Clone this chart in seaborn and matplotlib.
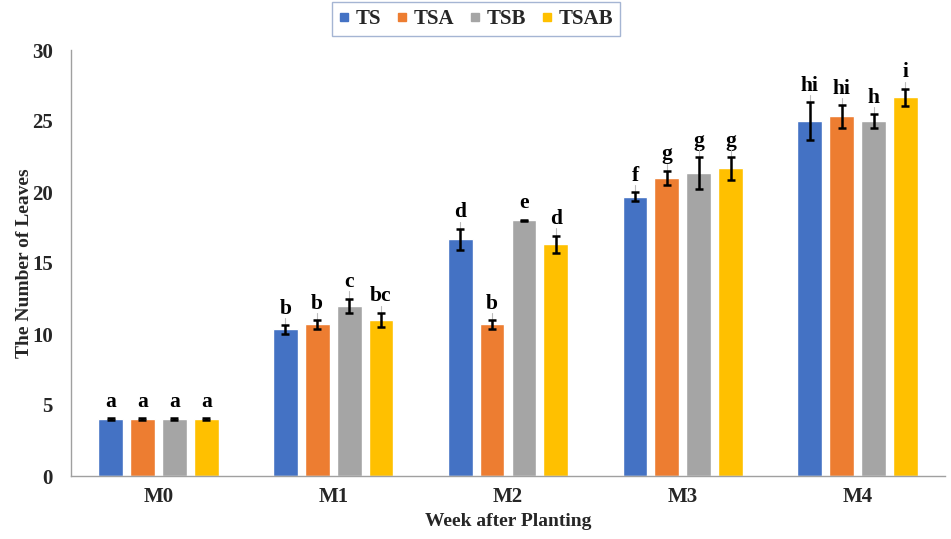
import matplotlib
matplotlib.use("Agg")
import matplotlib.pyplot as plt
import seaborn as sns
import pandas as pd
import numpy as np

weeks = ["M0", "M1", "M2", "M3", "M4"]
treatments = ["TS", "TSA", "TSB", "TSAB"]
ts = [4.0, 10.33, 16.67, 19.67, 25.0]
tsa = [4.0, 10.67, 10.67, 21.0, 25.33]
tsb = [4.0, 12.0, 18.0, 21.33, 25.0]
tsab = [4.0, 11.0, 16.33, 21.67, 26.67]
ts_err = [0.05, 0.3, 0.75, 0.3, 1.33]
tsa_err = [0.05, 0.3, 0.3, 0.5, 0.8]
tsb_err = [0.05, 0.5, 0.05, 1.1, 0.5]
tsab_err = [0.05, 0.5, 0.6, 0.8, 0.6]
ts_lab = ["a", "b", "d", "f", "hi"]
tsa_lab = ["a", "b", "b", "g", "hi"]
tsb_lab = ["a", "c", "e", "g", "h"]
tsab_lab = ["a", "bc", "d", "g", "i"]

colors = ["#4472C4", "#ED7D31", "#A5A5A5", "#FFC000"]

vals = [ts, tsa, tsb, tsab]
errs = [ts_err, tsa_err, tsb_err, tsab_err]
labs = [ts_lab, tsa_lab, tsb_lab, tsab_lab]

rows = []
for t, v in zip(treatments, vals):
    for w, y in zip(weeks, v):
        rows.append({"Week": w, "Treatment": t, "Leaves": y})
df = pd.DataFrame(rows)

sns.set_theme(style="white")
plt.rcParams["font.family"] = ["Liberation Serif", "DejaVu Serif"]

fig = plt.figure(figsize=(9.51, 5.39), dpi=100)
ax = fig.add_axes([71/951, 63/539, 874/951, 426/539])

sns.barplot(data=df, x="Week", y="Leaves", hue="Treatment", order=weeks,
            hue_order=treatments, palette=colors, width=0.73, gap=0.22,
            errorbar=None, ax=ax, saturation=1, legend=False)

patches = [p for p in ax.patches if p.get_height() > 0][:20]
k = 0
for ti in range(4):
    for wi in range(5):
        p = patches[k]
        k += 1
        cx = p.get_x() + p.get_width() / 2
        h = vals[ti][wi]
        e = errs[ti][wi]
        ax.errorbar(cx, h, yerr=e, fmt="none", ecolor="black", elinewidth=1.8,
                    capsize=3, capthick=1.8, zorder=5)
        if e > 0.1:
            ax.plot([cx, cx], [h + e, h + e + 0.5], color="#BBBBBB", lw=0.8, zorder=4)
        ax.text(cx, h + e + 0.45, labs[ti][wi], ha="center", va="bottom",
                fontsize=15.5, fontweight="bold", color="black")

ax.set_ylim(0, 30)
ax.set_xlim(-0.5, 4.5)
ax.set_yticks([0, 5, 10, 15, 20, 25, 30])
ax.tick_params(axis="both", length=0, labelsize=15)
for lab in ax.get_xticklabels() + ax.get_yticklabels():
    lab.set_fontweight("bold")
ax.tick_params(axis="y", pad=13)
ax.tick_params(axis="x", pad=8)
ax.set_xlabel("Week after Planting", fontsize=14, fontweight="bold", labelpad=4)
ax.set_ylabel("The Number of Leaves", fontsize=14, fontweight="bold", labelpad=-1)

for s in ["top", "right"]:
    ax.spines[s].set_visible(False)
for s in ["left", "bottom"]:
    ax.spines[s].set_color("#A0A0A0")
    ax.spines[s].set_linewidth(1.0)

handles = [plt.Line2D([], [], marker="s", linestyle="none", markersize=6,
                      markerfacecolor=c, markeredgecolor=c) for c in colors]
leg = fig.legend(handles, treatments, loc="center", bbox_to_anchor=(476/951, 1 - 19/539),
                 ncol=4, frameon=True, fancybox=False, handlelength=0.5,
                 handletextpad=0.3, columnspacing=0.75, borderpad=0.35,
                 prop={"family": "Liberation Serif", "weight": "bold", "size": 15})
leg.get_frame().set_edgecolor("#8FA3C8")
leg.get_frame().set_linewidth(1.0)

fig.savefig("out.png", dpi=100)
